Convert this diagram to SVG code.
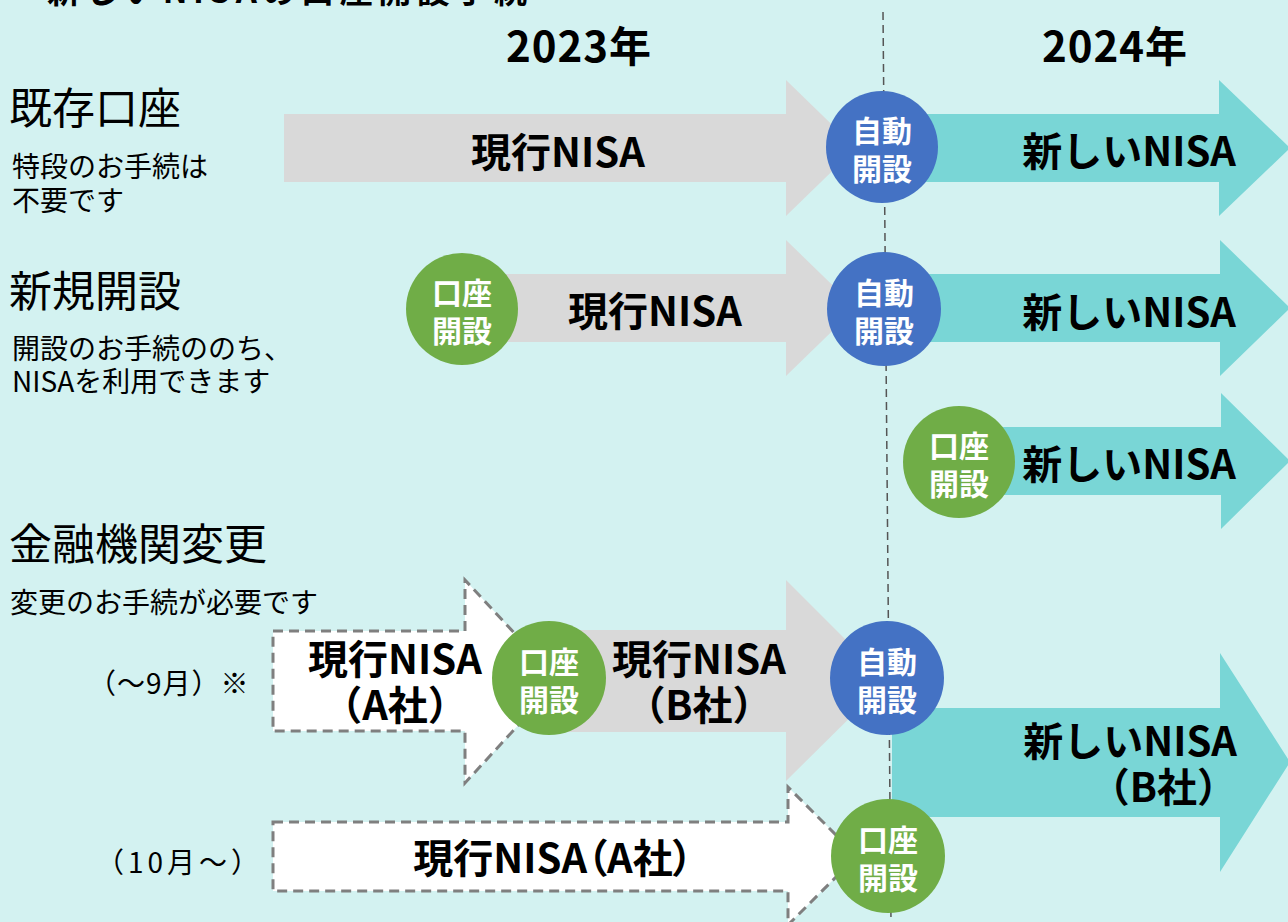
<svg xmlns="http://www.w3.org/2000/svg" width="1288" height="922" viewBox="0 0 1288 922">
<style>
.t{font-family:"Noto Sans CJK JP","Noto Sans",sans-serif;fill:#000}
.lbl{font-size:43px;font-weight:400}
.sub{font-size:28px;font-weight:400}
.big{font-size:40px;font-weight:700}
.yr{font-size:42px;font-weight:700;text-anchor:middle}
.ct{font-family:"Noto Sans CJK JP","Noto Sans",sans-serif;font-size:30px;font-weight:700;fill:#fff;text-anchor:middle}
.mid{text-anchor:middle}
.end{text-anchor:end}
.palt{font-feature-settings:"palt"}
.gray{fill:#D9D9D9}
.teal{fill:#79D6D6}
.dash{fill:#fff;stroke:#7F7F7F;stroke-width:3;stroke-dasharray:10 6}
.blue{fill:#4472C4}
.green{fill:#70AD47}
</style>
<rect width="1288" height="922" fill="#D3F2F1"/>
<text class="t" x="47" y="3" font-size="33" font-weight="700" textLength="480" lengthAdjust="spacing">新しいNISAの口座開設手続</text>
<g id="divider">
<line x1="883" y1="12" x2="891" y2="922" stroke="#555" stroke-width="1.5" stroke-dasharray="8 5"/>
</g>
<g id="years">
<text class="t yr" x="579" y="62" letter-spacing="1">2023年</text>
<text class="t yr" x="1115" y="62" letter-spacing="1">2024年</text>
</g>
<g id="labels">
<text class="t lbl" x="9" y="124">既存口座</text>
<text class="t sub" x="12" y="177">特段のお手続は</text>
<text class="t sub" x="12" y="211">不要です</text>
<text class="t lbl" x="9" y="307">新規開設</text>
<text class="t sub" x="12" y="359">開設のお手続ののち、</text>
<text class="t sub" x="12" y="392">NISAを利用できます</text>
<text class="t lbl" x="9" y="560">金融機関変更</text>
<text class="t sub" x="10" y="613">変更のお手続が必要です</text>
<text class="t sub" x="88" y="694" letter-spacing="1">（～9月）※</text>
<text class="t sub" x="96" y="873" letter-spacing="4">（10月～）</text>
</g>
<g id="connectors">
<polygon id="r1-current" class="gray" points="284,114 786,114 786,80 856,148 786,216 786,182 284,182"/>
<polygon id="r1-new" class="teal" points="882,114 1219,114 1219,80 1290,148 1219,216 1219,182 882,182"/>
<polygon id="r2-current" class="gray" points="462,274 786,274 786,240 856,308 786,376 786,342 462,342"/>
<polygon id="r2-new" class="teal" points="884,274 1220,274 1220,240 1290,308 1220,376 1220,342 884,342"/>
<polygon id="r3-new" class="teal" points="959,427 1221,427 1221,393 1290,461 1221,529 1221,495 959,495"/>
<polygon id="r4-a" class="dash" points="273,631 465,631 465,580 559,681 465,783 465,731 273,731"/>
<polygon id="r4-b" class="gray" points="549,630 786,630 786,580 887,681 786,781 786,732 549,732"/>
<polygon id="r4-new" class="teal" points="892,708 1220,708 1220,653 1290,762 1220,872 1220,817 892,817"/>
<polygon id="r5-a" class="dash" points="273,822 788,822 788,787 857,856 788,925 788,891 273,891"/>
</g>
<g id="arrow-texts">
<text class="t big mid" x="558" y="167">現行NISA</text>
<text class="t big end" x="1236" y="166">新しいNISA</text>
<text class="t big mid" x="655" y="326">現行NISA</text>
<text class="t big end" x="1236" y="327">新しいNISA</text>
<text class="t big end" x="1236" y="479">新しいNISA</text>
<text class="t big mid" x="395" y="674">現行NISA</text>
<text class="t big mid" x="395" y="720">（A社）</text>
<text class="t big mid" x="699" y="674">現行NISA</text>
<text class="t big mid" x="699" y="720">（B社）</text>
<text class="t big end" x="1237" y="756">新しいNISA</text>
<text class="t big end" x="1237" y="802">（B社）</text>
<text class="t big mid palt" x="553" y="873">現行NISA（A社）</text>
</g>
<g id="n-r1-auto"><circle class="blue" cx="882" cy="147" r="56"/><text class="ct" x="882" y="142">自動</text><text class="ct" x="882" y="180">開設</text></g>
<g id="n-r2-open"><circle class="green" cx="462" cy="309" r="56"/><text class="ct" x="462" y="304">口座</text><text class="ct" x="462" y="342">開設</text></g>
<g id="n-r2-auto"><circle class="blue" cx="884" cy="309" r="57"/><text class="ct" x="884" y="304">自動</text><text class="ct" x="884" y="342">開設</text></g>
<g id="n-r3-open"><circle class="green" cx="959" cy="462" r="56"/><text class="ct" x="959" y="457">口座</text><text class="ct" x="959" y="495">開設</text></g>
<g id="n-r4-open"><circle class="green" cx="549" cy="678" r="57"/><text class="ct" x="549" y="673">口座</text><text class="ct" x="549" y="711">開設</text></g>
<g id="n-r4-auto"><circle class="blue" cx="887" cy="678" r="57"/><text class="ct" x="887" y="673">自動</text><text class="ct" x="887" y="711">開設</text></g>
<g id="n-r5-open"><circle class="green" cx="888" cy="856" r="57"/><text class="ct" x="888" y="851">口座</text><text class="ct" x="888" y="889">開設</text></g>
</svg>
